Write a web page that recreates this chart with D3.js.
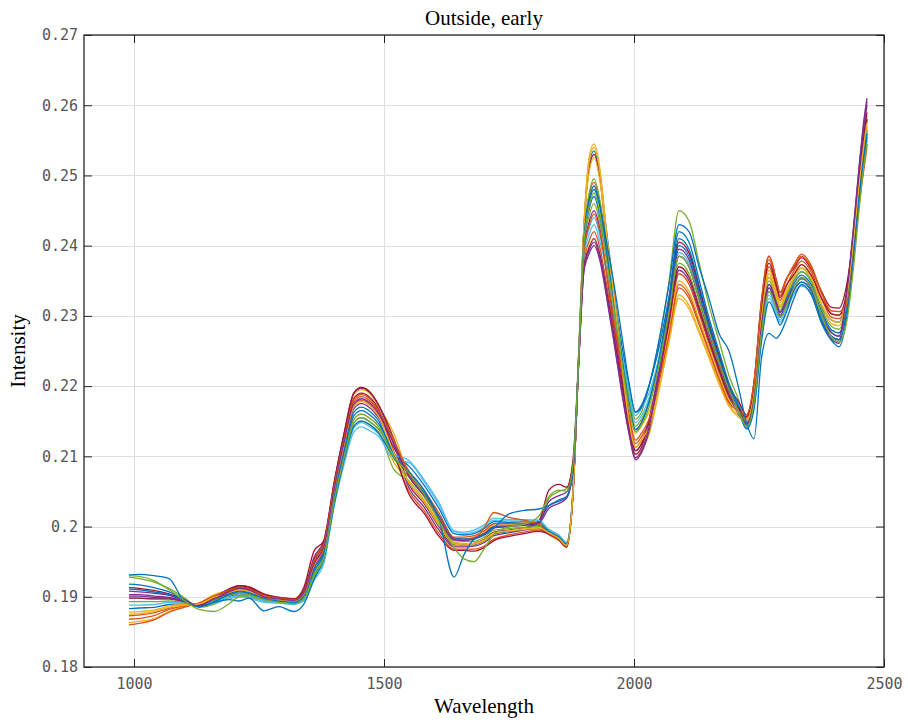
<!DOCTYPE html>
<html><head><meta charset="utf-8">
<script src="https://cdn.jsdelivr.net/npm/d3@7"></script>
<style>body{margin:0;background:#fff}svg{display:block}</style>
</head><body>
<svg id="chart" width="908" height="724"></svg>
<script>
const chartTitle = "Outside, early";
const xLabel = "Wavelength";
const yLabel = "Intensity";
const xTickValues = [1000, 1500, 2000, 2500];
const yTickValues = [0.18, 0.19, 0.2, 0.21, 0.22, 0.23, 0.24, 0.25, 0.26, 0.27];
const lineColors = ["#0072BD","#D95319","#EDB120","#7E2F8E","#77AC30","#4DBEEE","#A2142F"];

const wavelengths = [990,1010,1040,1070,1100,1130,1160,1190,1210,1230,1260,1290,1320,1340,1360,1380,1400,1420,1440,1455,1470,1490,1520,1550,1580,1610,1640,1660,1680,1700,1720,1750,1780,1810,1830,1850,1865,1878,1890,1900,1910,1920,1932,1945,1960,1975,1990,2003,2015,2030,2050,2070,2090,2110,2130,2150,2170,2190,2210,2225,2240,2255,2270,2285,2292,2305,2320,2335,2355,2375,2395,2410,2425,2440,2450,2460,2466];

const s01 = [0.1918,0.1917,0.1913,0.1907,0.1897,0.1886,0.1891,0.1900,0.1904,0.1902,
0.1895,0.1893,0.1891,0.1898,0.1931,0.1956,0.2036,0.2098,0.2148,0.2155,
0.2150,0.2138,0.2104,0.2086,0.2059,0.2026,0.1990,0.1988,0.1990,0.1997,
0.2007,0.2006,0.2007,0.2006,0.1994,0.1986,0.1976,0.2050,0.2256,0.2427,
0.2515,0.2535,0.2500,0.2421,0.2337,0.2254,0.2175,0.2138,0.2148,0.2179,
0.2241,0.2321,0.2410,0.2395,0.2344,0.2291,0.2245,0.2201,0.2169,0.2145,
0.2179,0.2281,0.2340,0.2314,0.2301,0.2320,0.2346,0.2358,0.2344,0.2312,
0.2294,0.2291,0.2328,0.2416,0.2488,0.2550,0.2580];
const s02 = [0.1873,0.1874,0.1877,0.1884,0.1888,0.1890,0.1900,0.1908,0.1913,0.1911,
0.1901,0.1897,0.1895,0.1907,0.1949,0.1974,0.2054,0.2122,0.2178,0.2185,
0.2180,0.2162,0.2104,0.2050,0.2023,0.1990,0.1968,0.1968,0.1968,0.1972,
0.1982,0.1988,0.1992,0.1995,0.1990,0.1982,0.1972,0.2046,0.2251,0.2413,
0.2470,0.2490,0.2459,0.2387,0.2307,0.2225,0.2150,0.2113,0.2123,0.2149,
0.2211,0.2286,0.2360,0.2345,0.2304,0.2261,0.2220,0.2183,0.2165,0.2154,
0.2197,0.2308,0.2370,0.2338,0.2322,0.2343,0.2364,0.2378,0.2362,0.2325,
0.2298,0.2296,0.2320,0.2404,0.2472,0.2530,0.2560];
const s03 = [0.1863,0.1865,0.1869,0.1879,0.1886,0.1891,0.1903,0.1910,0.1916,0.1914,
0.1903,0.1899,0.1897,0.1910,0.1955,0.1980,0.2060,0.2130,0.2188,0.2195,
0.2190,0.2170,0.2132,0.2073,0.2046,0.2013,0.1982,0.1982,0.1985,0.1992,
0.2002,0.2002,0.2004,0.2005,0.1988,0.1980,0.1970,0.2045,0.2257,0.2430,
0.2525,0.2545,0.2509,0.2415,0.2321,0.2224,0.2135,0.2098,0.2108,0.2131,
0.2193,0.2265,0.2330,0.2315,0.2280,0.2243,0.2205,0.2173,0.2158,0.2153,
0.2194,0.2304,0.2365,0.2334,0.2319,0.2337,0.2355,0.2368,0.2353,0.2325,
0.2307,0.2306,0.2320,0.2398,0.2464,0.2520,0.2550];
const s04 = [0.1908,0.1907,0.1905,0.1902,0.1895,0.1887,0.1899,0.1911,0.1916,0.1914,
0.1903,0.1899,0.1897,0.1910,0.1956,0.1981,0.2061,0.2132,0.2190,0.2197,
0.2192,0.2172,0.2117,0.2055,0.2028,0.1995,0.1971,0.1971,0.1972,0.1977,
0.1987,0.1991,0.1995,0.1997,0.1989,0.1981,0.1971,0.2048,0.2242,0.2364,
0.2388,0.2400,0.2378,0.2327,0.2262,0.2193,0.2132,0.2095,0.2105,0.2136,
0.2206,0.2290,0.2365,0.2350,0.2308,0.2264,0.2223,0.2185,0.2159,0.2144,
0.2176,0.2277,0.2335,0.2310,0.2298,0.2312,0.2332,0.2343,0.2330,0.2292,
0.2271,0.2266,0.2330,0.2434,0.2512,0.2580,0.2610];
const s05 = [0.1928,0.1926,0.1921,0.1912,0.1899,0.1885,0.1889,0.1899,0.1902,0.1900,
0.1894,0.1892,0.1890,0.1896,0.1928,0.1953,0.2033,0.2094,0.2143,0.2150,
0.2145,0.2134,0.2081,0.2065,0.2038,0.2005,0.1977,0.1975,0.1975,0.1979,
0.1989,0.1993,0.1996,0.2009,0.2040,0.2050,0.2054,0.2090,0.2248,0.2400,
0.2442,0.2460,0.2432,0.2381,0.2315,0.2251,0.2190,0.2153,0.2163,0.2199,
0.2263,0.2349,0.2450,0.2435,0.2376,0.2315,0.2265,0.2215,0.2179,0.2148,
0.2185,0.2290,0.2350,0.2322,0.2308,0.2329,0.2355,0.2368,0.2353,0.2307,
0.2276,0.2271,0.2320,0.2419,0.2492,0.2555,0.2585];
const s06 = [0.1898,0.1898,0.1897,0.1897,0.1893,0.1888,0.1891,0.1897,0.1900,0.1898,
0.1892,0.1891,0.1889,0.1894,0.1923,0.1948,0.2028,0.2088,0.2135,0.2142,
0.2137,0.2128,0.2095,0.2091,0.2064,0.2031,0.1993,0.1990,0.1992,0.1999,
0.2009,0.2008,0.2008,0.2007,0.1996,0.1988,0.1978,0.2052,0.2246,0.2388,
0.2424,0.2440,0.2414,0.2367,0.2304,0.2243,0.2185,0.2148,0.2158,0.2183,
0.2237,0.2307,0.2390,0.2375,0.2328,0.2279,0.2235,0.2194,0.2163,0.2142,
0.2173,0.2272,0.2330,0.2306,0.2294,0.2313,0.2341,0.2353,0.2339,0.2302,
0.2280,0.2276,0.2308,0.2401,0.2468,0.2525,0.2555];
const s07 = [0.1913,0.1912,0.1909,0.1904,0.1896,0.1886,0.1898,0.1911,0.1916,0.1914,
0.1904,0.1899,0.1897,0.1914,0.1965,0.1980,0.2062,0.2132,0.2191,0.2198,
0.2193,0.2172,0.2124,0.2060,0.2033,0.2000,0.1974,0.1974,0.1976,0.1982,
0.1992,0.1995,0.1998,0.2008,0.2052,0.2060,0.2056,0.2095,0.2255,0.2427,
0.2508,0.2530,0.2495,0.2408,0.2318,0.2225,0.2140,0.2103,0.2113,0.2150,
0.2225,0.2318,0.2405,0.2390,0.2340,0.2288,0.2243,0.2199,0.2177,0.2159,
0.2206,0.2322,0.2385,0.2350,0.2333,0.2353,0.2368,0.2383,0.2366,0.2335,
0.2312,0.2311,0.2343,0.2422,0.2496,0.2560,0.2590];
const s08 = [0.1883,0.1884,0.1885,0.1889,0.1890,0.1889,0.1897,0.1904,0.1908,0.1906,
0.1898,0.1895,0.1893,0.1902,0.1940,0.1965,0.2045,0.2110,0.2163,0.2170,
0.2165,0.2150,0.2099,0.2062,0.2035,0.2002,0.1975,0.1974,0.1974,0.1980,
0.1990,0.1993,0.1996,0.2006,0.2030,0.2036,0.2042,0.2080,0.2249,0.2405,
0.2451,0.2470,0.2441,0.2390,0.2324,0.2261,0.2200,0.2163,0.2173,0.2201,
0.2255,0.2328,0.2420,0.2405,0.2352,0.2297,0.2250,0.2204,0.2172,0.2147,
0.2182,0.2286,0.2345,0.2318,0.2305,0.2325,0.2350,0.2363,0.2348,0.2307,
0.2280,0.2276,0.2313,0.2407,0.2476,0.2535,0.2565];
const s09 = [0.1860,0.1862,0.1867,0.1878,0.1885,0.1891,0.1901,0.1907,0.1911,0.1909,
0.1900,0.1897,0.1895,0.1905,0.1946,0.1971,0.2051,0.2118,0.2173,0.2180,
0.2175,0.2158,0.2121,0.2079,0.2052,0.2019,0.1985,0.1985,0.1987,0.1994,
0.2004,0.2004,0.2005,0.2005,0.1991,0.1983,0.1973,0.2048,0.2244,0.2376,
0.2406,0.2420,0.2396,0.2346,0.2281,0.2215,0.2155,0.2118,0.2128,0.2150,
0.2207,0.2276,0.2345,0.2330,0.2292,0.2252,0.2213,0.2178,0.2164,0.2157,
0.2203,0.2317,0.2380,0.2346,0.2329,0.2352,0.2373,0.2388,0.2371,0.2332,
0.2303,0.2301,0.2315,0.2395,0.2460,0.2515,0.2545];
const s10 = [0.1878,0.1879,0.1881,0.1887,0.1889,0.1890,0.1896,0.1902,0.1905,0.1903,
0.1896,0.1894,0.1892,0.1899,0.1934,0.1959,0.2039,0.2102,0.2153,0.2160,
0.2155,0.2142,0.2091,0.2065,0.2038,0.2005,0.1977,0.1976,0.1976,0.1981,
0.1991,0.1994,0.1997,0.1998,0.1994,0.1986,0.1976,0.2051,0.2255,0.2425,
0.2503,0.2525,0.2491,0.2414,0.2331,0.2248,0.2170,0.2133,0.2143,0.2163,
0.2215,0.2279,0.2350,0.2335,0.2296,0.2255,0.2215,0.2180,0.2161,0.2151,
0.2191,0.2299,0.2360,0.2330,0.2315,0.2336,0.2359,0.2373,0.2357,0.2317,
0.2289,0.2286,0.2323,0.2413,0.2484,0.2545,0.2575];
const s11 = [0.1903,0.1903,0.1901,0.1899,0.1894,0.1887,0.1896,0.1905,0.1910,0.1908,
0.1899,0.1896,0.1894,0.1904,0.1943,0.1968,0.2048,0.2114,0.2168,0.2175,
0.2170,0.2154,0.2112,0.2075,0.2048,0.2015,0.1983,0.1982,0.1984,0.1990,
0.2000,0.2001,0.2003,0.2007,0.2036,0.2044,0.2049,0.2084,0.2247,0.2394,
0.2433,0.2450,0.2423,0.2361,0.2288,0.2213,0.2145,0.2108,0.2118,0.2152,
0.2223,0.2311,0.2395,0.2380,0.2332,0.2282,0.2238,0.2195,0.2166,0.2145,
0.2179,0.2281,0.2340,0.2314,0.2301,0.2316,0.2337,0.2348,0.2335,0.2292,
0.2267,0.2261,0.2323,0.2428,0.2504,0.2570,0.2600];
const s12 = [0.1893,0.1893,0.1893,0.1894,0.1892,0.1888,0.1895,0.1902,0.1905,0.1903,
0.1896,0.1894,0.1892,0.1899,0.1934,0.1959,0.2039,0.2102,0.2153,0.2160,
0.2155,0.2142,0.2097,0.2070,0.2043,0.2010,0.1980,0.1979,0.1979,0.1985,
0.1995,0.1997,0.1999,0.2000,0.1993,0.1985,0.1975,0.2050,0.2252,0.2417,
0.2473,0.2495,0.2464,0.2399,0.2324,0.2250,0.2180,0.2143,0.2153,0.2176,
0.2229,0.2297,0.2375,0.2360,0.2316,0.2270,0.2228,0.2188,0.2165,0.2150,
0.2188,0.2295,0.2355,0.2326,0.2312,0.2330,0.2350,0.2363,0.2348,0.2310,
0.2285,0.2281,0.2318,0.2410,0.2480,0.2540,0.2570];
const s13 = [0.1888,0.1888,0.1889,0.1892,0.1891,0.1889,0.1893,0.1899,0.1901,0.1899,
0.1894,0.1892,0.1890,0.1895,0.1927,0.1952,0.2032,0.2092,0.2141,0.2148,
0.2143,0.2132,0.2103,0.2094,0.2067,0.2034,0.1994,0.1992,0.1995,0.2002,
0.2012,0.2010,0.2010,0.2009,0.1995,0.1987,0.1977,0.2051,0.2245,0.2382,
0.2415,0.2430,0.2405,0.2364,0.2305,0.2249,0.2195,0.2158,0.2168,0.2190,
0.2239,0.2304,0.2385,0.2370,0.2324,0.2276,0.2233,0.2192,0.2161,0.2141,
0.2170,0.2268,0.2325,0.2302,0.2291,0.2307,0.2332,0.2343,0.2330,0.2295,
0.2276,0.2271,0.2303,0.2398,0.2464,0.2520,0.2550];
const s14 = [0.1898,0.1898,0.1897,0.1897,0.1893,0.1888,0.1899,0.1909,0.1914,0.1912,
0.1902,0.1898,0.1896,0.1908,0.1952,0.1977,0.2057,0.2126,0.2183,0.2190,
0.2185,0.2166,0.2106,0.2046,0.2019,0.1986,0.1966,0.1966,0.1965,0.1970,
0.1980,0.1986,0.1990,0.1993,0.1989,0.1981,0.1971,0.2047,0.2243,0.2370,
0.2397,0.2410,0.2387,0.2337,0.2272,0.2205,0.2145,0.2108,0.2118,0.2147,
0.2213,0.2293,0.2370,0.2355,0.2312,0.2267,0.2225,0.2187,0.2168,0.2156,
0.2200,0.2313,0.2375,0.2342,0.2326,0.2344,0.2359,0.2373,0.2357,0.2325,
0.2303,0.2301,0.2333,0.2416,0.2488,0.2550,0.2580];
const s15 = [0.1911,0.1910,0.1907,0.1903,0.1896,0.1886,0.1893,0.1903,0.1907,0.1905,
0.1897,0.1894,0.1892,0.1901,0.1937,0.1962,0.2042,0.2106,0.2158,0.2165,
0.2160,0.2146,0.2104,0.2075,0.2048,0.2015,0.1983,0.1982,0.1983,0.1989,
0.1999,0.2000,0.2002,0.2002,0.1993,0.1985,0.1975,0.2050,0.2251,0.2413,
0.2464,0.2485,0.2455,0.2391,0.2317,0.2244,0.2175,0.2138,0.2148,0.2177,
0.2237,0.2314,0.2400,0.2385,0.2336,0.2285,0.2240,0.2197,0.2163,0.2139,
0.2167,0.2263,0.2320,0.2298,0.2287,0.2306,0.2337,0.2348,0.2335,0.2295,
0.2271,0.2266,0.2305,0.2404,0.2472,0.2530,0.2560];
const s16 = [0.1868,0.1869,0.1873,0.1882,0.1887,0.1891,0.1901,0.1909,0.1913,0.1911,
0.1902,0.1898,0.1896,0.1907,0.1951,0.1976,0.2056,0.2124,0.2181,0.2188,
0.2183,0.2164,0.2123,0.2073,0.2046,0.2013,0.1982,0.1981,0.1983,0.1998,
0.2020,0.2013,0.2009,0.2003,0.1990,0.1982,0.1972,0.2047,0.2247,0.2391,
0.2428,0.2445,0.2419,0.2363,0.2294,0.2224,0.2160,0.2123,0.2133,0.2153,
0.2207,0.2272,0.2340,0.2325,0.2288,0.2249,0.2210,0.2176,0.2164,0.2159,
0.2206,0.2322,0.2385,0.2350,0.2333,0.2353,0.2370,0.2385,0.2368,0.2333,
0.2307,0.2306,0.2315,0.2392,0.2456,0.2510,0.2540];
const s17 = [0.1875,0.1876,0.1879,0.1885,0.1888,0.1890,0.1899,0.1906,0.1910,0.1908,
0.1900,0.1896,0.1894,0.1904,0.1945,0.1970,0.2050,0.2116,0.2171,0.2178,
0.2173,0.2156,0.2105,0.2062,0.2035,0.2002,0.1975,0.1974,0.1975,0.1980,
0.1990,0.1994,0.1996,0.1998,0.1991,0.1983,0.1973,0.2049,0.2256,0.2432,
0.2518,0.2540,0.2504,0.2417,0.2327,0.2235,0.2150,0.2113,0.2123,0.2142,
0.2197,0.2262,0.2325,0.2310,0.2276,0.2240,0.2203,0.2171,0.2155,0.2150,
0.2188,0.2295,0.2355,0.2326,0.2312,0.2332,0.2355,0.2368,0.2353,0.2317,
0.2294,0.2291,0.2325,0.2413,0.2484,0.2545,0.2575];
const s18 = [0.1901,0.1901,0.1899,0.1898,0.1894,0.1887,0.1897,0.1907,0.1912,0.1910,
0.1900,0.1897,0.1895,0.1906,0.1947,0.1972,0.2052,0.2120,0.2175,0.2182,
0.2177,0.2160,0.2117,0.2071,0.2044,0.2011,0.1981,0.1980,0.1982,0.1988,
0.1998,0.2000,0.2002,0.2005,0.2026,0.2033,0.2040,0.2078,0.2243,0.2367,
0.2393,0.2405,0.2383,0.2331,0.2265,0.2196,0.2135,0.2098,0.2108,0.2142,
0.2215,0.2304,0.2385,0.2370,0.2324,0.2276,0.2233,0.2192,0.2165,0.2147,
0.2182,0.2286,0.2345,0.2318,0.2305,0.2321,0.2341,0.2353,0.2339,0.2300,
0.2276,0.2271,0.2330,0.2431,0.2508,0.2575,0.2605];
const outlierBlue = [0.1931,0.1932,0.1930,0.1926,0.1894,0.1886,0.1892,0.1896,0.1894,0.1898,
0.1880,0.1886,0.1879,0.1890,0.1925,0.1955,0.2030,0.2095,0.2143,0.2150,
0.2146,0.2132,0.2098,0.2078,0.2052,0.2010,0.1928,0.1960,0.1982,0.1988,
0.1998,0.2018,0.2023,0.2025,0.2030,0.2038,0.2043,0.2080,0.2250,0.2410,
0.2460,0.2480,0.2455,0.2405,0.2345,0.2275,0.2205,0.2163,0.2170,0.2200,
0.2265,0.2345,0.2430,0.2420,0.2370,0.2325,0.2275,0.2250,0.2195,0.2148,
0.2125,0.2240,0.2275,0.2268,0.2274,0.2295,0.2325,0.2345,0.2330,0.2290,
0.2265,0.2256,0.2295,0.2390,0.2465,0.2525,0.2555];
const outlierGreen = [0.1930,0.1929,0.1923,0.1910,0.1895,0.1882,0.1879,0.1890,0.1900,0.1902,
0.1896,0.1892,0.1890,0.1897,0.1930,0.1956,0.2035,0.2098,0.2148,0.2155,
0.2150,0.2138,0.2099,0.2076,0.2046,0.2008,0.1970,0.1954,0.1950,0.1968,
0.1989,0.2000,0.2003,0.2015,0.2043,0.2052,0.2050,0.2088,0.2248,0.2405,
0.2455,0.2475,0.2445,0.2380,0.2310,0.2238,0.2170,0.2135,0.2145,0.2170,
0.2230,0.2305,0.2385,0.2370,0.2325,0.2278,0.2235,0.2195,0.2163,0.2143,
0.2175,0.2275,0.2335,0.2310,0.2298,0.2315,0.2340,0.2355,0.2340,0.2300,
0.2270,0.2263,0.2290,0.2375,0.2450,0.2515,0.2545];

const bandSeries = [s01,s02,s03,s04,s05,s06,s07,s08,s09,s10,s11,s12,s13,s14,s15,s16,s17,s18];
const seriesList = bandSeries.map((vals, i) => ({values: vals, color: lineColors[i % lineColors.length]}));
seriesList.push({values: outlierBlue, color: lineColors[0]});
seriesList.push({values: outlierGreen, color: lineColors[4]});

const svg = d3.select("#chart");
const L = 84, R = 884, T = 35, B = 667;
const x = d3.scaleLinear().domain([900, 2500]).range([L, R]);
const y = d3.scaleLinear().domain([0.18, 0.27]).range([B, T]);

// grid
const grid = svg.append("g");
grid.selectAll("line.gx").data(xTickValues).join("line")
  .attr("x1", d => Math.round(x(d)) + 0.5).attr("x2", d => Math.round(x(d)) + 0.5)
  .attr("y1", T).attr("y2", B).attr("stroke", "#dfdfdf").attr("stroke-width", 1);
grid.selectAll("line.gy").data(yTickValues).join("line")
  .attr("y1", d => Math.round(y(d)) + 0.5).attr("y2", d => Math.round(y(d)) + 0.5)
  .attr("x1", L).attr("x2", R).attr("stroke", "#dfdfdf").attr("stroke-width", 1);

// lines
const line = d3.line().x((d, i) => x(wavelengths[i])).y(d => y(d)).curve(d3.curveMonotoneX);
svg.append("g").selectAll("path").data(seriesList).join("path")
  .attr("d", s => line(s.values.slice(0, wavelengths.length)))
  .attr("fill", "none").attr("stroke", s => s.color).attr("stroke-width", 1.3)
  .attr("stroke-linejoin", "round");

// axes
const tickFont = "'DejaVu Sans Mono', monospace";
const fmtY = d => String(+d.toFixed(2));
const axB = svg.append("g").attr("transform", `translate(0,${B})`)
  .call(d3.axisBottom(x).tickValues(xTickValues).tickFormat(d3.format("d")).tickSizeInner(-8).tickSizeOuter(0).tickPadding(11));
const axT = svg.append("g").attr("transform", `translate(0,${T})`)
  .call(d3.axisTop(x).tickValues(xTickValues).tickFormat("").tickSizeInner(-8).tickSizeOuter(0));
const axL = svg.append("g").attr("transform", `translate(${L},0)`)
  .call(d3.axisLeft(y).tickValues(yTickValues).tickFormat(fmtY).tickSizeInner(-8).tickSizeOuter(0).tickPadding(6));
const axR = svg.append("g").attr("transform", `translate(${R},0)`)
  .call(d3.axisRight(y).tickValues(yTickValues).tickFormat("").tickSizeInner(-8).tickSizeOuter(0));
[axB, axT, axL, axR].forEach(a => {
  a.select(".domain").remove();
  a.selectAll(".tick line").attr("stroke", "#262626").attr("stroke-width", 1);
  a.selectAll(".tick text").attr("font-family", tickFont).attr("font-size", 15).attr("fill", "#555");
});

// box
svg.append("rect").attr("x", L).attr("y", T).attr("width", R - L).attr("height", B - T)
  .attr("fill", "none").attr("stroke", "#262626").attr("stroke-width", 1.3);

// texts
const serif = "'Liberation Serif', 'Times New Roman', serif";
svg.append("text").attr("x", (L + R) / 2).attr("y", 25).attr("text-anchor", "middle")
  .attr("font-family", serif).attr("font-size", 21).attr("fill", "#000").text(chartTitle);
svg.append("text").attr("x", (L + R) / 2).attr("y", 713).attr("text-anchor", "middle")
  .attr("font-family", serif).attr("font-size", 21).attr("fill", "#000").text(xLabel);
svg.append("text").attr("transform", `translate(25,${(T + B) / 2}) rotate(-90)`).attr("text-anchor", "middle")
  .attr("font-family", serif).attr("font-size", 21).attr("fill", "#000").text(yLabel);
</script>
</body></html>
